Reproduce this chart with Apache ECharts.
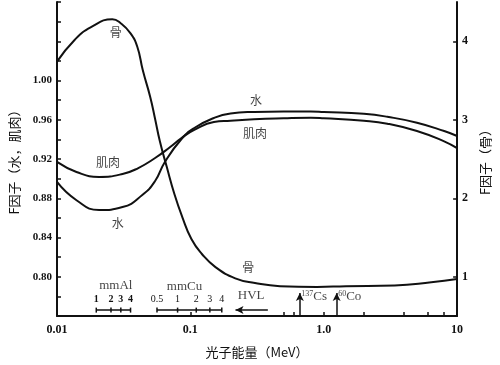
<!DOCTYPE html>
<html><head><meta charset="utf-8">
<script src="https://cdn.jsdelivr.net/npm/echarts@6/dist/echarts.min.js"></script>
<style>html,body{margin:0;padding:0;background:#fff}#c{width:500px;height:365px}</style>
</head><body><div id="c"></div>
<script>
// Photon energy (MeV) sample points and F factors
const muscleEnergies = [0.01,0.014,0.0207,0.031,0.0407,0.0544,0.0702,0.0858,0.107,0.15,0.2,0.3,0.5,0.8,1,2,3,5,8,10];
const muscle = [0.917,0.9068,0.9017,0.9047,0.9108,0.921,0.932,0.9414,0.9496,0.9577,0.959,0.9605,0.9615,0.962,0.9615,0.959,0.956,0.9485,0.938,0.931];
const waterEnergies = [0.01,0.014,0.0207,0.031,0.0436,0.0544,0.0644,0.0858,0.107,0.15,0.2,0.3,0.5,0.8,1,2,3,5,8,10];
const water = [0.8966,0.878,0.868,0.871,0.8833,0.8976,0.917,0.9404,0.9516,0.9618,0.9664,0.968,0.9685,0.9685,0.968,0.966,0.963,0.957,0.9485,0.9434];
const boneEnergies = [0.01,0.0136,0.018,0.026,0.030,0.0356,0.040,0.044,0.050,0.0544,0.059,0.0665,0.076,0.087,0.1018,0.122,0.155,0.217,0.305,0.47,0.89,1.47,3.4,6.4,10];
const bone = [3.74,4.02,4.18,4.28,4.23,4.10,3.93,3.63,3.29,3.01,2.73,2.40,2.05,1.76,1.48,1.29,1.12,0.98,0.92,0.88,0.87,0.88,0.89,0.93,0.97];

// tick labels
const xTickValues = [0.01,0.1,1,10];
const xTickLabels = ['0.01','0.1','1.0','10'];
const xMinorTicks = [0.01,0.1,0.5,0.6,1,2,4,6,8,10];
const rightTickValues = [1,2,3,4];

// HVL scales (energy positions of half-value layers)
const alHVL = ['1','2','3','4'];
const alEnergy = [0.0197,0.0254,0.0301,0.0356];
const cuHVL = ['0.5','1','2','3','4'];
const cuEnergy = [0.0562,0.0802,0.1107,0.140,0.172];
// nuclide lines
const nuclides = ['137Cs','60Co'];
const nuclideEnergy = [0.662,1.25];

// curve labels
const curveLabels = [
  [0.0276,1.0485,'骨'],
  [0.0241,0.917,'肌肉'],
  [0.0286,0.8548,'水'],
  [0.311,0.980,'水'],
  [0.305,0.9465,'肌肉'],
  [0.272,0.809,'骨']
];
const scaleLabels = [
  [0.0276,0.7906,'mmAl'],
  [0.0904,0.7896,'mmCu'],
  [0.2857,0.7804,'HVL']
];

const serif = 'Liberation Serif';
const cjk = 'Noto Sans CJK SC';
const K = '#111';

const chart = echarts.init(document.getElementById('c'), null, {renderer:'canvas'});
const zip = (xs, ys) => xs.map((x,i)=>[x, ys[i]]);

const option = {
  animation:false,
  backgroundColor:'#fff',
  grid:{left:55,right:37,top:2,bottom:49,containLabel:false},
  xAxis:{
    type:'log', logBase:10, min:0.01, max:10,
    name:'光子能量（MeV）', nameLocation:'middle', nameGap:30,
    nameTextStyle:{fontFamily:cjk,fontSize:13,color:K},
    axisLine:{lineStyle:{color:K,width:2}},
    axisTick:{show:true,inside:true,length:4,lineStyle:{color:K,width:1.5},customValues:xMinorTicks},
    axisLabel:{color:K,fontFamily:serif,fontWeight:'bold',fontSize:12,margin:8,
      customValues:xTickValues,
      formatter:v=>{const i=xTickValues.findIndex(t=>Math.abs(Math.log10(t)-Math.log10(v))<1e-6);return i>=0?xTickLabels[i]:'';}},
    splitLine:{show:false}, minorTick:{show:false}
  },
  yAxis:[
    {type:'value', min:0.76, max:1.08, interval:0.02, position:'left',
     name:'F因子（水，肌肉）', nameLocation:'middle', nameGap:36, nameRotate:90,
     nameTextStyle:{fontFamily:cjk,fontSize:13,color:K},
     axisLine:{show:true,lineStyle:{color:K,width:2}},
     axisTick:{show:true,inside:true,length:4,lineStyle:{color:K,width:1.5}},
     axisLabel:{color:K,fontFamily:serif,fontWeight:'bold',fontSize:11,margin:5,
       formatter:v=>{const r=Math.round(v*100);return (r%4===0&&r>=80&&r<=100)?(r/100).toFixed(2):'';}},
     splitLine:{show:false}},
    {type:'value', min:0.5, max:4.5, interval:0.5, position:'right',
     name:'F因子（骨）', nameLocation:'middle', nameGap:16, nameRotate:90,
     nameTextStyle:{fontFamily:cjk,fontSize:13,color:K},
     axisLine:{show:true,lineStyle:{color:K,width:2}},
     axisTick:{show:true,inside:true,length:4,lineStyle:{color:K,width:1.5},customValues:rightTickValues},
     axisLabel:{color:K,fontFamily:serif,fontWeight:'bold',fontSize:12,margin:5,customValues:rightTickValues,
       formatter:v=>Number.isInteger(v)?String(v):''},
     splitLine:{show:false}}
  ],
  series:[
    {name:'肌肉',type:'line',yAxisIndex:0,data:zip(muscleEnergies,muscle),smooth:0.5,showSymbol:false,
     lineStyle:{color:K,width:2},silent:true},
    {name:'水',type:'line',yAxisIndex:0,data:zip(waterEnergies,water),smooth:0.5,showSymbol:false,
     lineStyle:{color:K,width:2},silent:true},
    {name:'骨',type:'line',yAxisIndex:1,data:zip(boneEnergies,bone),smooth:0.5,showSymbol:false,
     lineStyle:{color:K,width:2},silent:true},
    // Al HVL scale
    {type:'line',yAxisIndex:0,data:alEnergy.map((e,i)=>[e,0.766,alHVL[i]]),
     symbol:'rect',symbolSize:[1.5,5],showSymbol:true,lineStyle:{color:K,width:1.5},itemStyle:{color:K},
     label:{show:true,position:'top',distance:3,color:K,fontFamily:serif,fontWeight:'bold',fontSize:10,formatter:p=>p.value[2]},silent:true},
    // Cu HVL scale
    {type:'line',yAxisIndex:0,data:cuEnergy.map((e,i)=>[e,0.766,cuHVL[i]]),
     symbol:'rect',symbolSize:[1.5,5],showSymbol:true,lineStyle:{color:K,width:1.5},itemStyle:{color:K},
     label:{show:true,position:'top',distance:3,color:K,fontFamily:serif,fontSize:10,formatter:p=>p.value[2]},silent:true},
    // curve & scale labels + arrows
    {type:'scatter',yAxisIndex:0,symbolSize:1,itemStyle:{color:'rgba(0,0,0,0)'},
     data:curveLabels.map(d=>({value:d,label:{fontFamily:cjk,fontSize:12}}))
       .concat(scaleLabels.map(d=>({value:d,label:{fontFamily:serif,fontSize:13}}))),
     label:{show:true,position:'inside',color:K,formatter:p=>p.value[2]},
     markLine:{silent:true,symbol:['none','arrow'],symbolSize:[6,8],label:{show:false},
       lineStyle:{color:K,width:1.5,type:'solid'},
       data:[
         [{coord:[0.381,0.766]},{coord:[0.218,0.766]}],
         ...nuclideEnergy.map(e=>[{coord:[e,0.760]},{coord:[e,0.7835]}])
       ]},
     silent:true},
    {type:'scatter',yAxisIndex:0,symbolSize:1,itemStyle:{color:'rgba(0,0,0,0)'},
     data:nuclideEnergy.map((e,i)=>[e,0.7795,nuclides[i]]),
     label:{show:true,position:'right',distance:1,color:K,fontFamily:serif,fontSize:13,
       formatter:p=>{const m=p.value[2].match(/^(\d+)(\D+)$/);return '{s|'+m[1]+'}'+m[2];},
       rich:{s:{fontSize:8,fontFamily:serif,color:K,verticalAlign:'top',padding:[0,0,6,0]}}},
     silent:true}
  ]
};
chart.setOption(option);
</script></body></html>
